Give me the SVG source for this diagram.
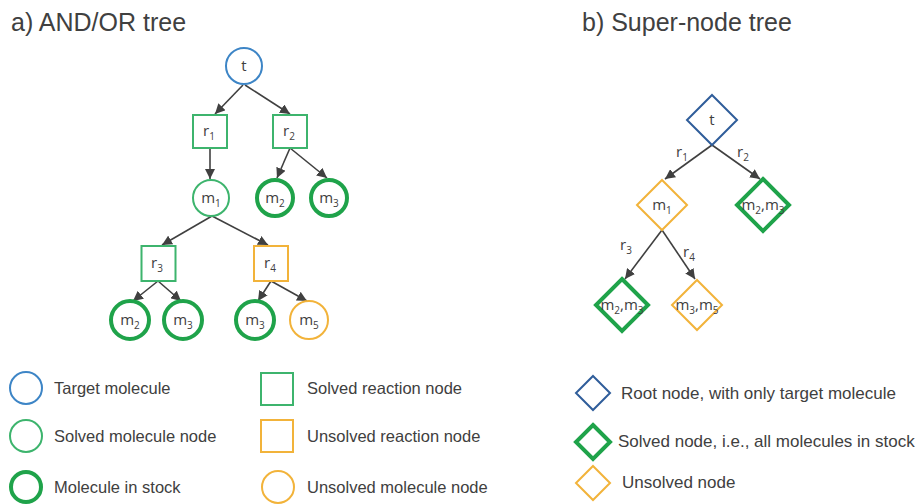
<svg xmlns="http://www.w3.org/2000/svg" width="917" height="504" viewBox="0 0 917 504">
<defs>
<marker id="ah" markerUnits="userSpaceOnUse" markerWidth="10" markerHeight="10" viewBox="0 0 10 10" refX="10" refY="5" orient="auto">
<path d="M0,0 L10,5 L0,10 z" fill="#404040"/>
</marker>
<style>
.title{font-family:"Liberation Sans",Arial,sans-serif;font-size:25px;fill:#404040}
.leg{font-family:"Liberation Sans",Arial,sans-serif;font-size:16.5px;fill:#404040}
.legb{font-family:"Liberation Sans",Arial,sans-serif;font-size:17px;fill:#404040}
.lbl{font-family:"Open Sans","Liberation Sans",sans-serif;font-size:15px;fill:#404040;text-anchor:middle}
.sub{font-size:10px}
.edge{stroke:#404040;stroke-width:1.6;fill:none;marker-end:url(#ah)}
.blue{fill:#fff;stroke:#3d85c6;stroke-width:2}
.dblue{fill:#fff;stroke:#2f5d9a;stroke-width:2}
.sgreen{fill:#fff;stroke:#3db46d;stroke-width:2}
.stock{fill:#fff;stroke:#1fa34a;stroke-width:4}
.orange{fill:#fff;stroke:#f2b33a;stroke-width:2}
</style>
</defs>
<rect width="917" height="504" fill="#fff"/>
<text class="title" x="11" y="31">a) AND/OR tree</text>
<text class="title" x="582" y="31">b) Super-node tree</text>

<g id="connectors">
<line class="edge" x1="243" y1="85" x2="215" y2="114"/>
<line class="edge" x1="245" y1="85" x2="290" y2="114"/>
<line class="edge" x1="210" y1="148" x2="210" y2="179"/>
<line class="edge" x1="290" y1="148" x2="277" y2="178"/>
<line class="edge" x1="290" y1="148" x2="327" y2="178"/>
<line class="edge" x1="212" y1="216" x2="162" y2="245"/>
<line class="edge" x1="212" y1="216" x2="268" y2="245"/>
<line class="edge" x1="158" y1="281" x2="133" y2="301"/>
<line class="edge" x1="158" y1="281" x2="181" y2="301"/>
<line class="edge" x1="271" y1="281" x2="258" y2="301"/>
<line class="edge" x1="271" y1="281" x2="307" y2="301"/>
<line class="edge" x1="712" y1="145" x2="665" y2="179"/>
<line class="edge" x1="712" y1="145" x2="760" y2="179"/>
<line class="edge" x1="662" y1="230" x2="625" y2="279"/>
<line class="edge" x1="662" y1="230" x2="695" y2="279"/>
<text class="lbl" x="682" y="157">r<tspan class="sub" dy="4">1</tspan></text>
<text class="lbl" x="743" y="157">r<tspan class="sub" dy="4">2</tspan></text>
<text class="lbl" x="626" y="250">r<tspan class="sub" dy="4">3</tspan></text>
<text class="lbl" x="689" y="257">r<tspan class="sub" dy="4">4</tspan></text>
</g>

<g id="a_t"><circle class="blue" cx="244" cy="66" r="18"/><text class="lbl" x="244" y="71">t</text></g>
<g id="a_r1"><rect class="sgreen" x="193" y="115" width="34" height="33"/><text class="lbl" x="209" y="136">r<tspan class="sub" dy="4">1</tspan></text></g>
<g id="a_r2"><rect class="sgreen" x="273" y="115" width="34" height="33"/><text class="lbl" x="289" y="136">r<tspan class="sub" dy="4">2</tspan></text></g>
<g id="a_m1"><circle class="sgreen" cx="211" cy="198" r="18"/><text class="lbl" x="211" y="203">m<tspan class="sub" dy="4">1</tspan></text></g>
<g id="a_m2"><circle class="stock" cx="275" cy="198" r="18"/><text class="lbl" x="275" y="203">m<tspan class="sub" dy="4">2</tspan></text></g>
<g id="a_m3"><circle class="stock" cx="329" cy="198" r="18"/><text class="lbl" x="329" y="203">m<tspan class="sub" dy="4">3</tspan></text></g>
<g id="a_r3"><rect class="sgreen" x="141.5" y="246" width="34" height="35"/><text class="lbl" x="157" y="268">r<tspan class="sub" dy="4">3</tspan></text></g>
<g id="a_r4"><rect class="orange" x="254" y="246" width="34" height="35"/><text class="lbl" x="270" y="268">r<tspan class="sub" dy="4">4</tspan></text></g>
<g id="a_m2b"><circle class="stock" cx="130" cy="320" r="19"/><text class="lbl" x="130" y="325">m<tspan class="sub" dy="4">2</tspan></text></g>
<g id="a_m3b"><circle class="stock" cx="183" cy="320" r="19"/><text class="lbl" x="183" y="325">m<tspan class="sub" dy="4">3</tspan></text></g>
<g id="a_m3c"><circle class="stock" cx="255" cy="320" r="19"/><text class="lbl" x="255" y="325">m<tspan class="sub" dy="4">3</tspan></text></g>
<g id="a_m5"><circle class="orange" cx="309" cy="320" r="19"/><text class="lbl" x="309" y="325">m<tspan class="sub" dy="4">5</tspan></text></g>

<g id="b_t"><polygon class="dblue" points="712,95 737,120 712,145 687,120"/><text class="lbl" x="712" y="125">t</text></g>
<g id="b_m1"><polygon class="orange" points="662,180 687,205 662,230 637,205"/><text class="lbl" x="662" y="210">m<tspan class="sub" dy="4">1</tspan></text></g>
<g id="b_m23"><polygon class="stock" points="763,179 789,205 763,231 737,205"/><text class="lbl" x="763" y="210">m<tspan class="sub" dy="4">2</tspan><tspan dy="-4">,m</tspan><tspan class="sub" dy="4">3</tspan></text></g>
<g id="b_m23b"><polygon class="stock" points="622,279 648,305 622,331 596,305"/><text class="lbl" x="622" y="310">m<tspan class="sub" dy="4">2</tspan><tspan dy="-4">,m</tspan><tspan class="sub" dy="4">3</tspan></text></g>
<g id="b_m35"><polygon class="orange" points="697,280 722,305 697,330 672,305"/><text class="lbl" x="697" y="310">m<tspan class="sub" dy="4">3</tspan><tspan dy="-4">,m</tspan><tspan class="sub" dy="4">5</tspan></text></g>

<g id="legend_a">
<circle class="blue" cx="26" cy="388" r="16"/><text class="leg" x="54" y="394">Target molecule</text>
<circle class="sgreen" cx="26" cy="436" r="16"/><text class="leg" x="54" y="442">Solved molecule node</text>
<circle class="stock" cx="26" cy="487" r="15"/><text class="leg" x="54" y="493">Molecule in stock</text>
<rect class="sgreen" x="261" y="373" width="32" height="32"/><text class="leg" x="307" y="394">Solved reaction node</text>
<rect class="orange" x="261" y="420" width="32" height="32"/><text class="leg" x="307" y="442">Unsolved reaction node</text>
<circle class="orange" cx="278" cy="487" r="16"/><text class="leg" x="307" y="493">Unsolved molecule node</text>
</g>
<g id="legend_b">
<polygon class="dblue" points="593,376 610,393 593,410 576,393"/><text class="legb" x="621" y="399">Root node, with only target molecule</text>
<polygon class="stock" points="593,425 610,442 593,459 576,442"/><text class="legb" x="618" y="447">Solved node, i.e., all molecules in stock</text>
<polygon class="orange" points="593,466 610,483 593,500 576,483"/><text class="legb" x="622" y="488">Unsolved node</text>
</g>
</svg>
